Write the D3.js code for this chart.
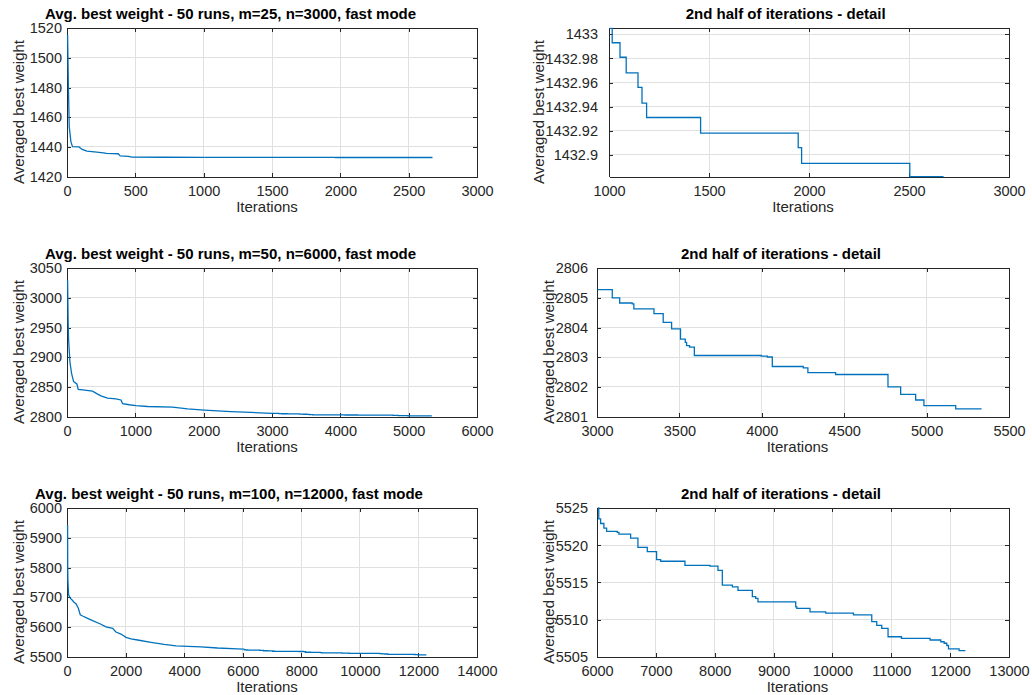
<!DOCTYPE html>
<html>
<head>
<meta charset="utf-8">
<script src="https://cdn.jsdelivr.net/npm/d3@7"></script>
<style>
  body { margin: 0; background: #fff; }
  svg { display: block; font-family: "Liberation Sans", Arial, Helvetica, sans-serif; }
</style>
</head>
<body>
<svg id="fig" width="1032" height="695"></svg>
<script>
// ---- averaged best weight per iteration, three problem sizes ----
// early descent (sampled), [iteration, weight]
const run25Head = [[0,1515.5],[6,1480],[12,1453.7],[24,1443.6],[36,1440.2],[83,1440],[107,1438.3],
  [141,1437.2],[214,1436.5],[262,1436],[285,1435.6],[370,1435.4],[385,1434],[446,1433.7],[470,1433.1],
  [700,1433.04],[1000,1433.005]];
// late plateau, step changes [iteration, weight]
const run25Tail = [[1000,1433.005],[1013,1432.993],[1052,1432.981],[1083,1432.968],[1142,1432.956],
  [1162,1432.943],[1185,1432.931],[1455,1432.918],[1943,1432.906],[1960,1432.893],[2501,1432.882],
  [2670,1432.882]];

const run50Head = [[0,3030],[8,2960],[15,2929],[34,2892],[58,2873],[88,2859],[136,2855],[156,2846],
  [219,2845],[365,2843],[439,2838],[488,2835],[585,2831],[707,2830],[780,2828],[805,2822],[902,2820],
  [1000,2818.5],[1170,2817],[1536,2816],[1756,2813],[2000,2811],[2390,2808.3],[2682,2807],[2900,2806],
  [3000,2805.28]];
const run50Tail = [[3000,2805.28],[3089,2805.0],[3134,2804.83],[3210,2804.8],[3220,2804.63],
  [3342,2804.47],[3398,2804.18],[3449,2803.96],[3503,2803.61],[3532,2803.5],[3540,2803.39],
  [3558,2803.34],[3587,2803.06],[3993,2803.04],[4030,2803.01],[4060,2802.69],[4248,2802.64],
  [4276,2802.48],[4444,2802.42],[4762,2802.0],[4839,2801.75],[4930,2801.56],[4980,2801.37],
  [5173,2801.26],[5330,2801.26]];

const run100Head = [[0,5943.7],[4,5800],[10,5758],[34,5708],[91,5697],[171,5689],[228,5682],[285,5678],
  [364,5664],[432,5641],[512,5637],[683,5629],[854,5621],[1138,5609],[1309,5600],[1537,5595],
  [1651,5583],[1822,5576],[1993,5565],[2163,5560],[2391,5556],[2846,5548],[3301,5541],[3700,5536],
  [4554,5533],[5122,5529],[5800,5526],[6000,5525.2]];
const run100Tail = [[6000,5525.2],[6020,5523.58],[6051,5522.95],[6107,5522.32],[6153,5521.88],
  [6334,5521.75],[6362,5521.52],[6561,5520.98],[6685,5519.74],[6844,5519.16],[7002,5518.09],
  [7071,5517.86],[7484,5517.29],[7909,5517.2],[8045,5516.62],[8119,5514.65],[8290,5514.4],
  [8385,5513.94],[8629,5513.08],[8686,5512.86],[8725,5512.37],[9366,5511.7],[9385,5511.5],
  [9609,5511.03],[9876,5510.85],[10347,5510.63],[10658,5509.73],[10743,5509.2],[10828,5508.8],
  [10935,5507.68],[11163,5507.45],[11649,5507.24],[11831,5507.0],[11888,5506.8],[11933,5506.5],
  [11962,5506.04],[12142,5505.8],[12250,5505.8]];

// ---- titles and ticks ----
const overviewTitles = [
  "Avg. best weight - 50 runs, m=25, n=3000, fast mode",
  "Avg. best weight - 50 runs, m=50, n=6000, fast mode",
  "Avg. best weight - 50 runs, m=100, n=12000, fast mode"
];
const detailTitle = "2nd half of iterations - detail";
const xLabel = "Iterations";
const yLabel = "Averaged best weight";

const xTicks25 = [0,500,1000,1500,2000,2500,3000];
const yTicks25 = [1420,1440,1460,1480,1500,1520];
const xTicks25d = [1000,1500,2000,2500,3000];
const yTicks25d = [1432.9,1432.92,1432.94,1432.96,1432.98,1433];

const xTicks50 = [0,1000,2000,3000,4000,5000,6000];
const yTicks50 = [2800,2850,2900,2950,3000,3050];
const xTicks50d = [3000,3500,4000,4500,5000,5500];
const yTicks50d = [2801,2802,2803,2804,2805,2806];

const xTicks100 = [0,2000,4000,6000,8000,10000,12000,14000];
const yTicks100 = [5500,5600,5700,5800,5900,6000];
const xTicks100d = [6000,7000,8000,9000,10000,11000,12000,13000];
const yTicks100d = [5505,5510,5515,5520,5525];

// ---- layout ----
const rowTop = [28.3, 268.3, 508.3];
const rowH = 148.3;
const leftX = [67, 477];
const rightX = [[609, 1009], [597, 1009], [597, 1009]];

const LINE = "#0072BD", INK = "#262626", GRID = "#e0e0e0";

const panels = [
  { head: run25Head, tail: run25Tail, xd: [0,3000], yd: [1420,1520], xt: xTicks25, yt: yTicks25,
    title: overviewTitles[0], xs: leftX, row: 0, tcx: 230.5, ylx: 23.5, gap: 5, xlc: 267 },
  { head: [], tail: run25Tail, xd: [1000,3000], yd: [1432.882,1433.005], xt: xTicks25d, yt: yTicks25d,
    title: detailTitle, xs: rightX[0], row: 0, tcx: 785.7, ylx: 543.5, gap: 11, xlc: 803 },
  { head: run50Head, tail: run50Tail, xd: [0,6000], yd: [2800,3050], xt: xTicks50, yt: yTicks50,
    title: overviewTitles[1], xs: leftX, row: 1, tcx: 230.5, ylx: 23.5, gap: 5, xlc: 267 },
  { head: [], tail: run50Tail, xd: [3000,5500], yd: [2801,2806], xt: xTicks50d, yt: yTicks50d,
    title: detailTitle, xs: rightX[1], row: 1, tcx: 781, ylx: 553.5, gap: 9, xlc: 797.5 },
  { head: run100Head, tail: run100Tail, xd: [0,14000], yd: [5500,6000], xt: xTicks100, yt: yTicks100,
    title: overviewTitles[2], xs: leftX, row: 2, tcx: 229, ylx: 23.5, gap: 5, xlc: 267 },
  { head: [], tail: run100Tail, xd: [6000,13000], yd: [5505,5525], xt: xTicks100d, yt: yTicks100d,
    title: detailTitle, xs: rightX[2], row: 2, tcx: 781, ylx: 553.5, gap: 9, xlc: 797.5 }
];

const svg = d3.select("#fig");
const fmt = d => String(+d.toFixed(4));

panels.forEach((p, i) => {
  const x0 = p.xs[0], x1 = p.xs[1];
  const y0 = rowTop[p.row], y1 = y0 + rowH;
  const W = x1 - x0, H = y1 - y0;
  const x = d3.scaleLinear().domain(p.xd).range([x0, x1]);
  const y = d3.scaleLinear().domain(p.yd).range([y1, y0]);
  const g = svg.append("g");

  // grid
  g.append("g").selectAll("line").data(p.xt.filter(v => v > p.xd[0] && v < p.xd[1])).join("line")
    .attr("x1", d => x(d)).attr("x2", d => x(d)).attr("y1", y0).attr("y2", y1)
    .attr("stroke", GRID).attr("stroke-width", 1).attr("shape-rendering", "crispEdges");
  g.append("g").selectAll("line").data(p.yt.filter(v => v > p.yd[0] && v < p.yd[1])).join("line")
    .attr("y1", d => y(d)).attr("y2", d => y(d)).attr("x1", x0).attr("x2", x1)
    .attr("stroke", GRID).attr("stroke-width", 1).attr("shape-rendering", "crispEdges");

  // axes (box with inward ticks)
  const tl = 4;
  const styleAxis = sel => {
    sel.selectAll(".domain").attr("stroke", INK).attr("stroke-width", 1).attr("shape-rendering", "crispEdges");
    sel.selectAll(".tick line").attr("stroke", INK).attr("stroke-width", 1).attr("shape-rendering", "crispEdges");
    sel.selectAll("text").attr("fill", INK).style("font-size", "14.5px")
      .style("font-family", "'Liberation Sans', Arial, sans-serif");
  };
  g.append("g").attr("transform", `translate(0,${y1})`)
    .call(d3.axisBottom(x).tickValues(p.xt).tickFormat(fmt).tickSizeInner(-tl).tickSizeOuter(0).tickPadding(9))
    .call(styleAxis);
  g.append("g").attr("transform", `translate(0,${y0})`)
    .call(d3.axisTop(x).tickValues(p.xt).tickFormat("").tickSizeInner(-tl).tickSizeOuter(0))
    .call(styleAxis);
  g.append("g").attr("transform", `translate(${x0},0)`)
    .call(d3.axisLeft(y).tickValues(p.yt).tickFormat(fmt).tickSizeInner(-tl).tickSizeOuter(0).tickPadding(p.gap))
    .call(styleAxis);
  g.append("g").attr("transform", `translate(${x1},0)`)
    .call(d3.axisRight(y).tickValues(p.yt).tickFormat("").tickSizeInner(-tl).tickSizeOuter(0))
    .call(styleAxis);

  // data, drawn over the box
  const clipId = "clip" + i;
  svg.append("clipPath").attr("id", clipId).append("rect")
    .attr("x", x0 - 1).attr("y", y0 - 1).attr("width", W + 1).attr("height", H + 2);
  const lg = g.append("g").attr("clip-path", `url(#${clipId})`);
  if (p.head.length) {
    lg.append("path").datum(p.head)
      .attr("d", d3.line().x(d => x(d[0]) + 0.6).y(d => y(d[1])))
      .attr("fill", "none").attr("stroke", LINE).attr("stroke-width", 1.3);
  }
  lg.append("path").datum(p.tail.filter(d => d[0] >= p.xd[0]))
    .attr("d", d3.line().curve(d3.curveStepAfter).x(d => x(d[0]) + 0.6).y(d => y(d[1])))
    .attr("fill", "none").attr("stroke", LINE).attr("stroke-width", 1.3);

  // title & labels
  g.append("text").attr("x", p.tcx).attr("y", y0 - 9)
    .attr("text-anchor", "middle").attr("fill", "#000")
    .style("font-size", "15px").style("font-weight", "bold").text(p.title);
  g.append("text").attr("x", p.xlc).attr("y", y1 + 35)
    .attr("text-anchor", "middle").attr("fill", INK).style("font-size", "15px").text(xLabel);
  g.append("text")
    .attr("transform", `translate(${p.ylx},${(y0 + y1) / 2 + 9.5}) rotate(-90)`)
    .attr("text-anchor", "middle").attr("fill", INK).style("font-size", "15px").text(yLabel);
});
</script>
</body>
</html>
